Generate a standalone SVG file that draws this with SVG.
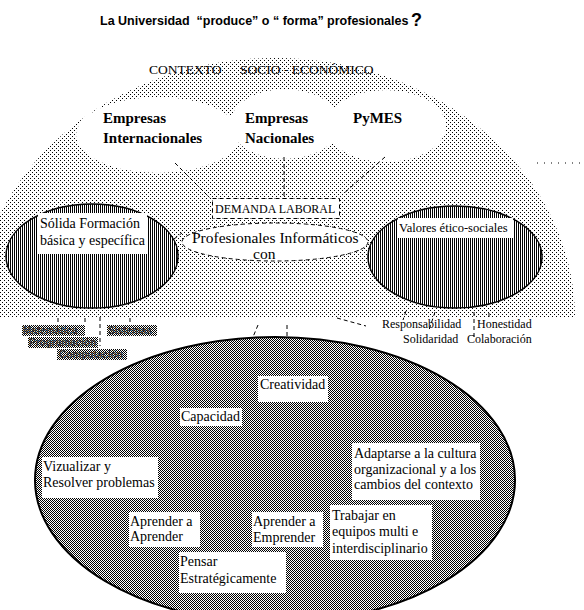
<svg xmlns="http://www.w3.org/2000/svg" width="584" height="610" viewBox="0 0 584 610">
<defs>
<pattern id="dots" width="4" height="4" patternUnits="userSpaceOnUse"><rect width="4" height="4" fill="#fff"/><rect x="0" y="0" width="1" height="1" fill="#000"/><rect x="2" y="2" width="1" height="1" fill="#000"/></pattern>
<pattern id="checker" width="2" height="2" patternUnits="userSpaceOnUse"><rect width="2" height="2" fill="#fff"/><rect width="1" height="1" fill="#000"/><rect x="1" y="1" width="1" height="1" fill="#000"/></pattern>
<pattern id="vstripe" width="2" height="2" patternUnits="userSpaceOnUse"><rect width="2" height="2" fill="#fff"/><rect width="1" height="2" fill="#000"/></pattern>
</defs>
<style>
.s{font-family:"Liberation Serif","Times New Roman",serif;fill:#000}
.b{font-weight:bold}
.box{fill:#fff}
.dash{stroke:#000;stroke-width:1;stroke-dasharray:4 3;fill:none}
.lbl{fill:url(#checker)}
.lt{font-family:"Liberation Sans",Arial,sans-serif;font-size:10px;font-weight:bold;fill:#333}
</style>
<rect width="584" height="610" fill="#fff"/>

<g id="title">
<text x="100" y="25" font-family="'Liberation Sans',Arial,sans-serif" font-weight="bold" font-size="12.5">La Universidad&#160; “produce” o “ forma” profesionales</text>
<text x="411" y="26" font-family="'Liberation Sans',Arial,sans-serif" font-weight="bold" font-size="18">?</text>
</g>

<g id="contexto">
<path d="M -25 318 A 300 260 0 0 1 575 318 Z" fill="url(#dots)"/>
<line x1="537" y1="163" x2="580" y2="163" stroke="#000" stroke-width="1" stroke-dasharray="1 6"/>
<text class="s" x="149" y="74" font-size="13.5">CONTEXTO</text>
<text class="s" x="240" y="74" font-size="13.5">SOCIO - ECONÓMICO</text>
</g>

<g id="empresas-internacionales">
<ellipse cx="158" cy="135" rx="82" ry="38" fill="#fff"/>
<text class="s b" x="103" y="123" font-size="15">Empresas</text>
<text class="s b" x="103" y="143" font-size="15">Internacionales</text>
</g>
<g id="empresas-nacionales">
<ellipse cx="285" cy="124" rx="55" ry="35" fill="#fff"/>
<text class="s b" x="245" y="123" font-size="15">Empresas</text>
<text class="s b" x="245" y="143" font-size="15">Nacionales</text>
</g>
<g id="pymes">
<ellipse cx="386" cy="126" rx="60" ry="36" fill="#fff"/>
<text class="s b" x="353" y="123" font-size="15">PyMES</text>
</g>

<g id="solida">
<ellipse cx="92" cy="256" rx="86" ry="52" fill="url(#vstripe)" stroke="#000" stroke-width="1.5"/>
<rect class="box" x="38" y="213" width="109" height="41"/>
<text class="s" x="40" y="228" font-size="14">Sólida Formación</text>
<text class="s" x="40" y="245" font-size="14">básica y específica</text>
</g>

<g id="valores">
<ellipse cx="455" cy="257" rx="87" ry="51" fill="url(#vstripe)" stroke="#000" stroke-width="1.5"/>
<rect class="box" x="398" y="218" width="115" height="20"/>
<text class="s" x="399" y="232" font-size="12.5">Valores ético-sociales</text>
</g>

<g id="demanda">
<rect x="212.5" y="198.5" width="127" height="20" fill="#fff" stroke="#000" stroke-dasharray="4 3"/>
<text class="s" x="215" y="213" font-size="12">DEMANDA LABORAL</text>
</g>

<g id="profesionales">
<ellipse cx="275" cy="242" rx="93" ry="19" fill="#fff" stroke="#000" stroke-dasharray="4 3"/>
<text class="s" x="192" y="243" font-size="15.5">Profesionales Informáticos</text>
<text class="s" x="253" y="259" font-size="15.5">con</text>
</g>

<g id="connectors">
<line class="dash" x1="175" y1="163" x2="210" y2="198"/>
<line class="dash" x1="284" y1="157" x2="284" y2="198"/>
<line class="dash" x1="385" y1="157" x2="342" y2="195"/>
<line class="dash" x1="174" y1="239" x2="182" y2="233"/>
<line class="dash" x1="258" y1="325" x2="253" y2="337"/>
<line class="dash" x1="287" y1="325" x2="287" y2="340"/>
<line class="dash" x1="337" y1="318" x2="366" y2="326"/>
<line class="dash" x1="58" y1="318" x2="58" y2="323"/>
<line class="dash" x1="85" y1="318" x2="85" y2="323"/>
<line class="dash" x1="100" y1="317" x2="100" y2="346"/>
<line class="dash" x1="130" y1="318" x2="130" y2="323"/>
<line class="dash" x1="406" y1="311" x2="403" y2="320"/>
<line class="dash" x1="435" y1="312" x2="429" y2="330"/>
<line class="dash" x1="474" y1="312" x2="474" y2="340"/>
<line class="dash" x1="489" y1="313" x2="489" y2="320"/>
<line stroke="#000" x1="227.5" y1="556" x2="227.5" y2="561"/>
<line stroke="#000" x1="334.5" y1="505" x2="334.5" y2="509"/>
</g>

<g id="saberes">
<rect class="lbl" x="22" y="325" width="63" height="11"/>
<text class="lt" x="23" y="334">Matemática</text>
<rect class="lbl" x="107" y="325" width="50" height="11"/>
<text class="lt" x="108" y="334">Sistemas</text>
<rect class="lbl" x="28" y="337" width="70" height="11"/>
<text class="lt" x="29" y="346">Programación</text>
<rect class="lbl" x="57" y="349" width="70" height="11"/>
<text class="lt" x="59" y="358">Computación</text>
</g>

<g id="valores-lista">
<text class="s" x="382" y="328" font-size="12">Responsabilidad</text>
<text class="s" x="477" y="328" font-size="12">Honestidad</text>
<text class="s" x="403" y="343" font-size="12">Solidaridad</text>
<text class="s" x="467" y="343" font-size="12">Colaboración</text>
</g>

<g id="competencias">
<ellipse cx="275" cy="480" rx="240" ry="143" fill="url(#checker)" stroke="#000" stroke-width="2"/>
</g>

<g id="creatividad">
<rect class="box" x="258" y="376" width="70" height="26"/>
<text class="s" x="260" y="389" font-size="14">Creatividad</text>
</g>
<g id="capacidad">
<rect class="box" x="180" y="408" width="62" height="18"/>
<text class="s" x="181" y="421" font-size="14">Capacidad</text>
</g>
<g id="vizualizar">
<rect class="box" x="42" y="457" width="116" height="41"/>
<text class="s" x="43" y="471" font-size="14">Vizualizar y</text>
<text class="s" x="43" y="487" font-size="14">Resolver problemas</text>
</g>
<g id="adaptarse">
<rect class="box" x="352" y="443" width="128" height="57"/>
<text class="s" x="354" y="458" font-size="14">Adaptarse a la cultura</text>
<text class="s" x="354" y="474" font-size="14">organizacional y a los</text>
<text class="s" x="354" y="489" font-size="14">cambios del contexto</text>
</g>
<g id="trabajar">
<rect class="box" x="330" y="505" width="102" height="55"/>
<text class="s" x="332" y="520" font-size="14">Trabajar en</text>
<text class="s" x="332" y="536" font-size="14">equipos multi e</text>
<text class="s" x="332" y="553" font-size="14">interdisciplinario</text>
</g>
<g id="aprender-emprender">
<rect class="box" x="252" y="512" width="71" height="35"/>
<text class="s" x="253" y="526" font-size="14">Aprender a</text>
<text class="s" x="253" y="542" font-size="14">Emprender</text>
</g>
<g id="aprender-aprender">
<rect class="box" x="129" y="512" width="71" height="35"/>
<text class="s" x="130" y="526" font-size="14">Aprender a</text>
<text class="s" x="130" y="541" font-size="14">Aprender</text>
</g>
<g id="pensar">
<rect class="box" x="179" y="552" width="107" height="41"/>
<text class="s" x="180" y="566" font-size="14">Pensar</text>
<text class="s" x="180" y="583" font-size="14">Estratégicamente</text>
</g>
</svg>
